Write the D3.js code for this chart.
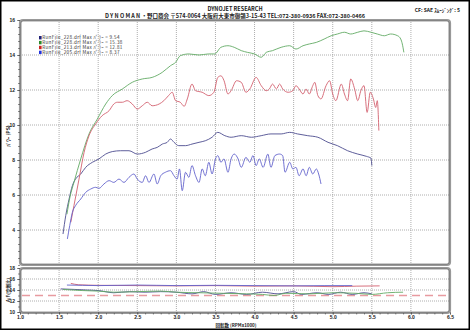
<!DOCTYPE html>
<html>
<head>
<meta charset="utf-8">
<script src="https://cdn.jsdelivr.net/npm/d3@7"></script>
<style>
body { margin: 0; background: #fff; }
svg { display: block; font-family: "Noto Sans CJK JP", "DejaVu Sans", sans-serif; }
</style>
</head>
<body>
<svg id="chart" width="470" height="330"></svg>
<script>
var width = 470, height = 330;

// power curves [rpm x1000, PS]
var navyPower = [[1.55,3.77],[1.585,4.82],[1.628,5.77],[1.67,6.53],[1.71,6.91],[1.777,7.2],[1.84,7.58],[1.926,7.87],[2.01,8.06],[2.096,8.34],[2.18,8.48],[2.287,8.53],[2.394,8.53],[2.5,8.34],[2.606,8.44],[2.69,8.63],[2.755,8.72],[2.82,8.91],[2.883,9.01],[2.925,9.2],[2.97,9.01],[3.03,8.82],[3.117,8.82],[3.2,8.91],[3.29,9.01],[3.37,9.1],[3.457,9.3],[3.53,9.58],[3.62,9.39],[3.70,9.3],[3.83,9.39],[3.96,9.3],[4.085,9.39],[4.21,9.49],[4.34,9.49],[4.45,9.58],[4.55,9.49],[4.68,9.39],[4.81,9.3],[4.94,9.01],[5.06,8.82],[5.19,8.53],[5.32,8.34],[5.43,8.21],[5.49,8.1],[5.5,7.68]];
var greenPower = [[1.6,4.9],[1.64,5.9],[1.69,6.72],[1.777,8.06],[1.883,9.49],[1.989,10.34],[2.096,11.2],[2.18,11.68],[2.31,12.06],[2.436,12.44],[2.564,12.63],[2.69,12.72],[2.82,13.01],[2.925,13.39],[2.99,13.58],[3.05,13.96],[3.16,14.06],[3.29,14.0],[3.41,14.06],[3.49,14.06],[3.57,14.44],[3.66,14.53],[3.74,14.44],[3.83,14.25],[3.91,14.15],[4.0,14.06],[4.085,13.87],[4.15,14.15],[4.23,14.25],[4.34,14.44],[4.45,14.53],[4.53,14.34],[4.62,14.53],[4.70,14.63],[4.79,14.72],[4.89,14.91],[4.98,15.1],[5.06,15.2],[5.15,15.3],[5.23,15.2],[5.32,15.3],[5.4,15.38],[5.49,15.3],[5.57,15.2],[5.66,15.1],[5.74,15.2],[5.83,15.1],[5.87,14.91],[5.89,14.63],[5.91,14.15]];
var redPower = [[1.65,4.44],[1.69,5.39],[1.755,6.91],[1.82,8.44],[1.883,9.39],[1.968,10.06],[2.05,10.53],[2.14,10.82],[2.2,11.2],[2.245,11.3],[2.31,11.3],[2.37,11.39],[2.436,11.2],[2.5,10.91],[2.564,11.1],[2.628,11.3],[2.69,11.1],[2.78,11.2],[2.84,11.39],[2.9,11.68],[2.947,11.87],[2.99,11.39],[3.05,11.3],[3.1,11.07],[3.14,11.49],[3.2,12.34],[3.245,11.96],[3.33,11.87],[3.415,11.68],[3.48,11.87],[3.53,12.72],[3.57,12.81],[3.61,12.53],[3.66,11.77],[3.70,11.96],[3.77,12.53],[3.83,12.44],[3.89,11.87],[3.94,12.06],[4.02,12.72],[4.085,12.25],[4.15,11.96],[4.19,12.06],[4.23,12.34],[4.28,12.06],[4.32,12.34],[4.36,12.06],[4.43,11.87],[4.49,11.96],[4.53,12.25],[4.57,12.06],[4.62,11.77],[4.66,12.06],[4.7,11.77],[4.745,12.25],[4.77,12.44],[4.81,11.68],[4.85,11.49],[4.915,12.25],[4.96,12.53],[5.0,11.77],[5.04,11.39],[5.11,12.34],[5.15,11.77],[5.19,11.39],[5.23,12.63],[5.28,12.06],[5.32,11.39],[5.36,11.96],[5.4,12.25],[5.44,10.72],[5.48,11.87],[5.52,11.49],[5.55,11.0],[5.57,11.39],[5.59,9.68]];
var bluePower = [[1.606,3.49],[1.636,4.25],[1.67,5.01],[1.71,5.39],[1.777,5.77],[1.84,6.15],[1.904,6.34],[1.968,6.44],[2.01,6.38],[2.074,6.63],[2.14,6.82],[2.2,6.72],[2.266,6.91],[2.33,6.72],[2.394,7.01],[2.457,7.2],[2.5,6.91],[2.564,6.72],[2.606,7.1],[2.65,6.72],[2.713,7.2],[2.755,6.63],[2.8,7.1],[2.86,7.3],[2.925,7.39],[2.97,7.1],[3.01,6.91],[3.04,7.49],[3.075,6.25],[3.117,7.3],[3.16,7.01],[3.2,7.68],[3.245,7.1],[3.29,6.72],[3.33,7.49],[3.37,7.1],[3.415,7.87],[3.457,7.2],[3.5,8.06],[3.53,8.25],[3.57,7.87],[3.61,8.06],[3.66,7.3],[3.70,8.06],[3.74,8.34],[3.79,8.06],[3.83,7.58],[3.89,8.15],[3.94,7.87],[3.98,8.25],[4.02,7.68],[4.06,8.06],[4.11,7.58],[4.17,8.34],[4.21,7.58],[4.26,8.25],[4.32,8.34],[4.36,8.25],[4.39,7.3],[4.45,7.87],[4.49,7.49],[4.53,7.58],[4.57,7.1],[4.62,7.49],[4.66,7.1],[4.7,7.58],[4.745,7.2],[4.79,7.49],[4.82,7.2],[4.85,6.63]];

// air/fuel curves [rpm x1000, A/F]
var navyAF = [[1.52,14.2],[1.7,14.1],[1.85,14.0],[2.0,13.9],[2.2,13.5],[2.4,13.7],[2.6,13.6],[2.8,13.7],[3.0,13.6],[3.2,13.3],[3.35,13.7],[3.5,13.2],[3.7,13.5],[3.9,13.2],[4.1,13.6],[4.3,13.3],[4.5,13.7],[4.6,13.2],[4.8,13.5],[4.95,13.2],[5.1,13.6],[5.25,13.2],[5.4,13.5],[5.5,13.3]];
var greenAF = [[1.55,14.1],[1.8,13.9],[2.0,13.8],[2.2,13.6],[2.5,13.7],[2.8,13.8],[3.0,13.6],[3.3,13.5],[3.6,13.4],[3.9,13.3],[4.1,13.2],[4.25,13.0],[4.4,13.4],[4.7,13.3],[5.0,13.5],[5.3,13.4],[5.5,13.2],[5.7,13.5],[5.9,13.6]];
var redAF = [[1.65,15.2],[1.75,14.95],[2.0,14.85],[2.5,14.8],[3.0,14.75],[3.5,14.8],[4.0,14.7],[4.5,14.75],[5.0,14.6],[5.3,14.7],[5.6,14.75]];
var blueAF = [[1.6,14.9],[1.8,14.85],[2.0,14.8],[2.5,14.9],[3.0,14.8],[3.5,14.85],[4.0,14.8],[4.5,14.75],[4.9,14.8],[5.25,14.8]];
var targetAF = 13;

var series = [
    {name: "RunFile_228.drf", max: "9.54", color: "#4c4c8e", key: "#222277", power: navyPower, af: navyAF},
    {name: "RunFile_228.drf", max: "15.38", color: "#62aa64", key: "#2a8a2a", power: greenPower, af: greenAF},
    {name: "RunFile_213.drf", max: "12.81", color: "#d2606e", key: "#cc2222", power: redPower, af: redAF},
    {name: "RunFile_205.drf", max: "8.37", color: "#6262cc", key: "#2233dd", power: bluePower, af: blueAF}
];

var rpmTicks = d3.range(1, 6.51, 0.5);
var powerTicks = [4, 6, 8, 10, 12, 14, 16];
var afTicks = [10, 12, 14, 16, 18];

var svg = d3.select("#chart");

var x = d3.scaleLinear().domain([1, 6.5]).range([20, 450]);
var y = d3.scaleLinear().domain([2, 16]).range([265, 20]);
var yAF = d3.scaleLinear().domain([10, 18]).range([312, 268]);

// outer border
svg.append("rect").attr("x", 0.75).attr("y", 0.75).attr("width", width - 1.5).attr("height", height - 1.5)
    .attr("fill", "none").attr("stroke", "#000").attr("stroke-width", 1.5);

// header texts
svg.append("text").attr("x", 235).attr("y", 11).attr("text-anchor", "middle")
    .attr("font-size", 5.5).attr("font-weight", "bold").attr("fill", "#222")
    .text("DYNOJET  RESEARCH");
svg.append("text").attr("x", 235).attr("y", 18).attr("text-anchor", "middle")
    .attr("font-size", 5.5).attr("font-weight", "bold").attr("fill", "#222")
    .text("D Y N O M A N ・野口商会  〒574-0064 大阪府大東市御領3-15-43 TEL:072-380-0936 FAX:072-380-0466");
svg.append("text").attr("x", 460).attr("y", 12).attr("text-anchor", "end")
    .attr("font-size", 5).attr("font-weight", "bold").attr("fill", "#222")
    .text("CF: SAE   ｽﾑｰｼﾞﾝｸﾞ: 5");

// grids
function grid(g, yScale, yValues, y0, y1) {
    g.selectAll("line.v").data(rpmTicks.slice(1, -1)).join("line").attr("class", "v")
        .attr("x1", d => x(d)).attr("x2", d => x(d)).attr("y1", y0).attr("y2", y1)
        .attr("stroke", "#999").attr("stroke-width", 0.8).attr("stroke-dasharray", "1,1");
    g.selectAll("line.h").data(yValues).join("line").attr("class", "h")
        .attr("x1", 20).attr("x2", 450).attr("y1", d => yScale(d)).attr("y2", d => yScale(d))
        .attr("stroke", "#999").attr("stroke-width", 0.8).attr("stroke-dasharray", "1,1");
}
grid(svg.append("g"), y, [4, 6, 8, 10, 12, 14], 20, 265);
grid(svg.append("g"), yAF, [12, 14, 16], 268, 313);

// frames
function frame(x0, y0, x1, y1) {
    svg.append("rect").attr("x", x0).attr("y", y0).attr("width", x1 - x0).attr("height", y1 - y0)
        .attr("rx", 3).attr("fill", "none").attr("stroke", "#999").attr("stroke-width", 2.2);
    svg.append("rect").attr("x", x0 + 1).attr("y", y0 + 1).attr("width", x1 - x0 - 2).attr("height", y1 - y0 - 2)
        .attr("rx", 2).attr("fill", "none").attr("stroke", "#555").attr("stroke-width", 0.6);
}
frame(20, 20, 450, 265);
frame(20, 268, 450, 313);

// axes
var axisStyle = function(g) {
    g.select(".domain").remove();
    g.selectAll("text").attr("font-size", 5).attr("font-weight", "bold").attr("fill", "#222");
    g.selectAll("line").attr("stroke", "#444").attr("stroke-width", 0.6);
};
svg.append("g").attr("transform", "translate(20,0)")
    .call(d3.axisLeft(y).tickValues(d3.range(2, 16.01, 0.4)).tickSize(2).tickFormat(""))
    .call(axisStyle);
svg.append("g").attr("transform", "translate(20,0)")
    .call(d3.axisLeft(y).tickValues(powerTicks).tickSize(3).tickPadding(2).tickFormat(d3.format("d")))
    .call(axisStyle);
svg.append("g").attr("transform", "translate(20,0)")
    .call(d3.axisLeft(yAF).tickValues(d3.range(10, 18.01, 1)).tickSize(2).tickFormat(""))
    .call(axisStyle);
svg.append("g").attr("transform", "translate(20,0)")
    .call(d3.axisLeft(yAF).tickValues(afTicks).tickSize(3).tickPadding(2).tickFormat(d3.format("d")))
    .call(axisStyle);
svg.append("g").attr("transform", "translate(0,313)")
    .call(d3.axisBottom(x).tickValues(d3.range(1, 6.51, 0.1)).tickSize(1.5).tickFormat(""))
    .call(axisStyle);
svg.append("g").attr("transform", "translate(0,312)")
    .call(d3.axisBottom(x).tickValues(rpmTicks).tickSize(2.5).tickPadding(0.5).tickFormat(d3.format(".1f")))
    .call(axisStyle);

// axis titles
svg.append("text").attr("transform", "translate(10,136) rotate(-90)").attr("text-anchor", "middle")
    .attr("font-size", 5).attr("font-weight", "bold").attr("fill", "#222").text("ﾊﾟﾜｰ (PS)");
svg.append("text").attr("transform", "translate(10,290) rotate(-90)").attr("text-anchor", "middle")
    .attr("font-size", 4.5).attr("font-weight", "bold").attr("fill", "#222").text("A/F(空燃比)");
svg.append("text").attr("x", 236).attr("y", 326.5).attr("text-anchor", "middle")
    .attr("font-size", 4.5).attr("font-weight", "bold").attr("fill", "#222").text("回転数 (RPMx1000)");

// target A/F line
svg.append("line").attr("x1", 22).attr("x2", 448).attr("y1", yAF(targetAF)).attr("y2", yAF(targetAF))
    .attr("stroke", "#e89aa0").attr("stroke-width", 1.4).attr("stroke-dasharray", "8,5");

// curves
var line = d3.line().x(d => x(d[0])).y(d => y(d[1])).curve(d3.curveMonotoneX);
var lineAF = d3.line().x(d => x(d[0])).y(d => yAF(d[1])).curve(d3.curveMonotoneX);

svg.append("g").selectAll("path").data(series).join("path")
    .attr("d", d => lineAF(d.af)).attr("fill", "none")
    .attr("stroke", d => d.color).attr("stroke-width", 0.9);
svg.append("g").selectAll("path").data(series).join("path")
    .attr("d", d => line(d.power)).attr("fill", "none")
    .attr("stroke", d => d.color).attr("stroke-width", 0.9);

// legend
var legend = svg.append("g").selectAll("g").data(series).join("g")
    .attr("transform", (d, i) => "translate(39," + (36 + i * 4.9) + ")");
legend.append("rect").attr("width", 2.6).attr("height", 3.4).attr("fill", d => d.key);
legend.append("text").attr("x", 3.2).attr("y", 3.3).attr("font-size", 4.6).attr("letter-spacing", 0.35).attr("fill", "#333")
    .text(d => d.name + " Max ﾊﾟﾜｰ = " + d.max);
</script>
</body>
</html>
